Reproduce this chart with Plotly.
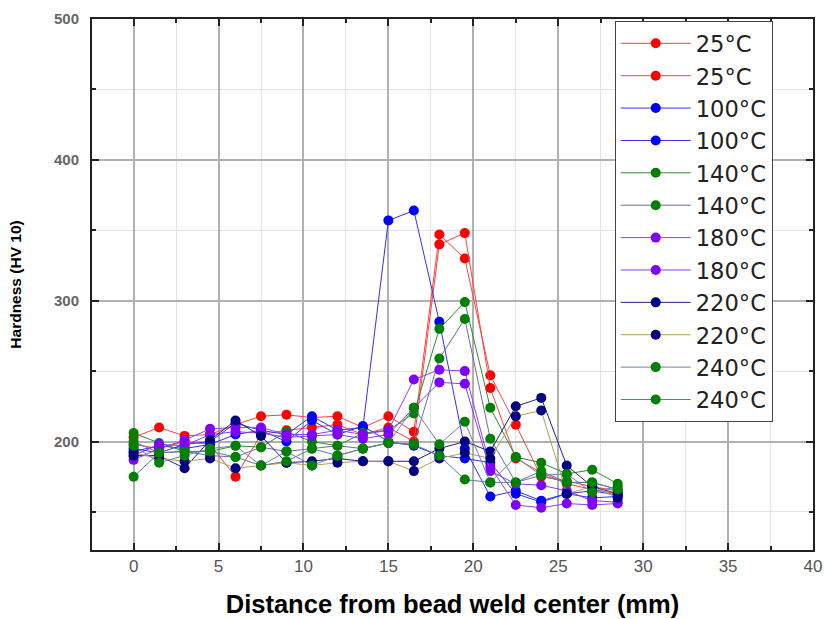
import plotly.graph_objects as go

x_mm = [0, 1.5, 3, 4.5, 6, 7.5, 9, 10.5, 12, 13.5, 15, 16.5, 18, 19.5, 21, 22.5, 24, 25.5, 27, 28.5]

names = ["25°C", "25°C", "100°C", "100°C", "140°C", "140°C",
         "180°C", "180°C", "220°C", "220°C", "240°C", "240°C"]

red_a = [203, 210, 204, 205, 212, 218, 219, 217, 218, 210, 218, 207, 347, 330, 247, 212, 175, 172, 168, 165]
red_b = [198, 195, 200, 198, 175, 205, 208, 210, 212, 205, 210, 200, 340, 348, 238, 188, 178, 170, 166, 163]
blue_a = [195, 192, 198, 200, 213, 208, 205, 218, 208, 210, 357, 364, 285, 195, 161, 165, 158, 163, 160, 161]
blue_b = [193, 197, 195, 198, 205, 208, 200, 215, 205, 211, 200, 197, 190, 188, 185, 163, 157, 163, 165, 162]
green_140a = [206, 199, 193, 193, 197, 196, 207, 200, 197, 206, 208, 220, 280, 299, 224, 189, 185, 177, 180, 170]
green_140b = [200, 192, 193, 190, 189, 196, 193, 195, 197, 195, 199, 198, 259, 287, 202, 171, 179, 171, 171, 166]
purple_a = [187, 195, 201, 209, 210, 210, 205, 205, 208, 205, 208, 244, 251, 250, 182, 155, 153, 156, 155, 156]
purple_b = [190, 198, 197, 205, 207, 206, 203, 204, 205, 202, 205, 224, 242, 241, 179, 170, 169, 165, 158, 157]
navy_a = [190, 190, 181, 201, 215, 204, 185, 186, 188, 186, 186, 186, 195, 200, 193, 225, 231, 183, 168, 163]
navy_b = [192, 188, 186, 188, 181, 183, 185, 183, 185, 186, 186, 179, 188, 192, 188, 218, 222, 163, 168, 160]
green_240a = [197, 185, 190, 195, 197, 183, 193, 183, 190, 195, 199, 224, 198, 214, 171, 189, 176, 177, 164, 168]
green_240b = [175, 192, 193, 193, 189, 183, 186, 195, 190, 195, 199, 198, 190, 173, 171, 171, 176, 171, 171, 166]

series = [red_a, red_b, blue_a, blue_b, green_140a, green_140b,
          purple_a, purple_b, navy_a, navy_b, green_240a, green_240b]

marker_colors = ["#ff0000", "#ff0000", "#0000ff", "#0000ff", "#008000", "#008000",
                 "#8000ff", "#8000ff", "#000080", "#000080", "#008000", "#008000"]
line_colors = ["#ff4040", "#ff4040", "#3030ff", "#3030ff", "#2e8b2e", "#6a6aa8",
               "#9040ff", "#8040f0", "#202090", "#b0a050", "#7080b0", "#5c7aa0"]

fig = go.Figure()
for i, (nm, ys) in enumerate(zip(names, series)):
    fig.add_trace(go.Scatter(
        x=x_mm, y=ys, name=nm, mode="lines+markers",
        line=dict(color=line_colors[i], width=1),
        marker=dict(color=marker_colors[i], size=10, line=dict(width=0)),
    ))

axis_common = dict(
    showline=True, linecolor="#222", linewidth=2, mirror="ticks",
    ticks="inside", ticklen=7, tickcolor="#222", tickwidth=1.5,
    showgrid=True, gridcolor="#b0b0b0", gridwidth=1.5, zeroline=False,
    ticklabeloverflow="allow",
)

fig.update_xaxes(
    range=[-2.45, 40], tickvals=[0, 5, 10, 15, 20, 25, 30, 35, 40],
    minor=dict(dtick=2.5, tick0=0, ticks="inside", ticklen=4, tickcolor="#222",
               showgrid=True, gridcolor="#e4e4e4", gridwidth=1),
    tickfont=dict(family="Liberation Sans Narrow, Arial Narrow, Liberation Sans, sans-serif",
                  size=17, color="#555"),
    title=dict(text="<b>Distance from bead weld center (mm)</b>",
               font=dict(family="Liberation Sans, Arial, sans-serif", size=25.5, color="#000"),
               standoff=20),
    **axis_common,
)
fig.update_yaxes(
    range=[123, 500], tickvals=[200, 300, 400, 500],
    minor=dict(dtick=50, tick0=0, ticks="inside", ticklen=4, tickcolor="#222",
               showgrid=True, gridcolor="#e4e4e4", gridwidth=1),
    tickfont=dict(family="Liberation Sans, Arial, sans-serif", size=15, color="#666",
                  weight="bold"),
    ticklabelstandoff=8,
    title=dict(text="<b>Hardness (HV 10)</b>",
               font=dict(family="Liberation Sans, Arial, sans-serif", size=15.5, color="#000"),
               standoff=29),
    **axis_common,
)

fig.update_layout(
    width=827, height=619,
    margin=dict(l=92, r=5, t=19, b=68),
    paper_bgcolor="white", plot_bgcolor="white",
    showlegend=True,
    legend=dict(x=0.725, y=0.996, xanchor="left", yanchor="top",
                bgcolor="white", bordercolor="#444", borderwidth=1,
                font=dict(family="DejaVu Sans, Liberation Sans, sans-serif", size=22.6, color="#222"),
                itemwidth=70, tracegroupgap=0, entrywidth=154, entrywidthmode="pixels"),
)

fig.write_html("out.html")
